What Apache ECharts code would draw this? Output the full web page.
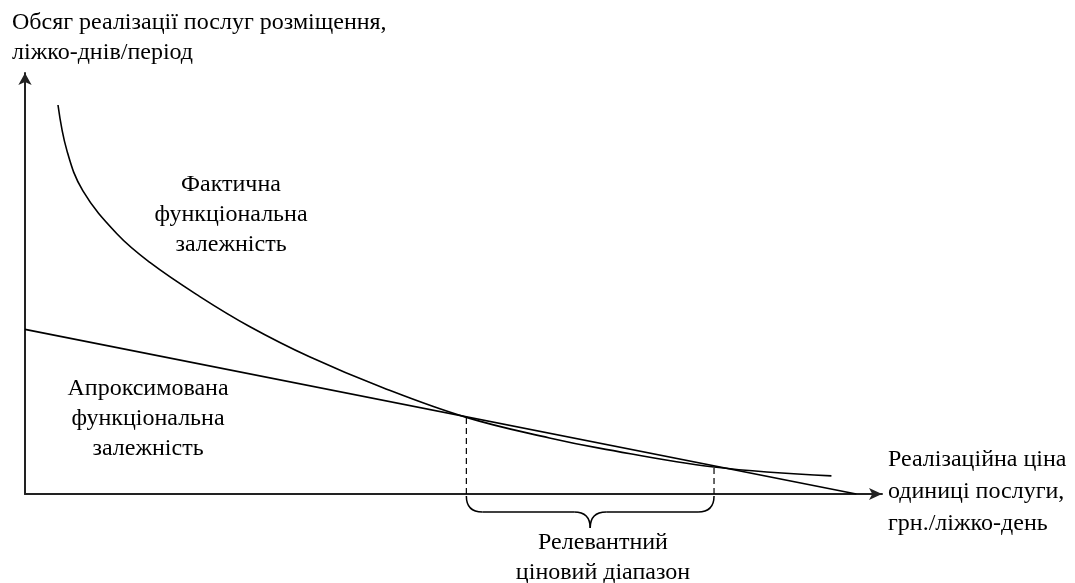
<!DOCTYPE html>
<html>
<head>
<meta charset="utf-8">
<title>Релевантний ціновий діапазон</title>
<script src="https://cdn.jsdelivr.net/npm/echarts@6/dist/echarts.min.js"></script>
<style>
	html,body{margin:0;padding:0;background:#fff;}
	#main{width:1075px;height:583px;}
</style>
</head>
<body>
<div id="main"></div>
<script>
// фактична залежність (ціна -> обсяг), умовні одиниці
var actualX = [3.85, 4.90, 6.76, 10.72, 14.57, 20.4, 26.2, 33.2, 41.7, 51.5, 61.2, 67.0, 80.4, 94.1];
var actualY = [92.4, 81.5, 72.0, 61.8, 55.0, 46.9, 39.8, 32.6, 25.3, 18.2, 13.3, 10.9, 6.4, 4.3];
// апроксимована (лінійна) залежність
var approxX = [0, 97.0];
var approxY = [39.1, 0];
// межі релевантного діапазону - індекси точок фактичної кривої
var rangeIdx = [9, 12];

var font = '"Liberation Serif", "DejaVu Serif", serif';

var actualData = actualX.map(function (x, i) { return [x, actualY[i]]; });
var approxData = approxX.map(function (x, i) { return [x, approxY[i]]; });

var dashSeries = rangeIdx.map(function (k) {
	return {
		type: 'line',
		data: [[actualX[k], 0], [actualX[k], actualY[k]]],
		showSymbol: false,
		lineStyle: {color: '#000', width: 1.2, type: [6, 4]},
		z: 1
	};
});

var chart = echarts.init(document.getElementById('main'));
var option = {
	animation: false,
	grid: {left: 25, top: 73, width: 857, height: 421},
	xAxis: {
		type: 'value', min: 0, max: 100,
		axisLine: {lineStyle: {color: '#222', width: 2}, symbol: ['none', 'arrow'], symbolSize: [9, 13]},
		axisTick: {show: false}, axisLabel: {show: false}, splitLine: {show: false}
	},
	yAxis: {
		type: 'value', min: 0, max: 100,
		axisLine: {lineStyle: {color: '#222', width: 2}, symbol: ['none', 'arrow'], symbolSize: [10, 12]},
		axisTick: {show: false}, axisLabel: {show: false}, splitLine: {show: false}
	},
	series: [
		{
			type: 'line', data: actualData, smooth: 0.4, showSymbol: false,
			lineStyle: {color: '#000', width: 1.6}, z: 2
		},
		{
			type: 'line', data: approxData, showSymbol: false,
			lineStyle: {color: '#000', width: 1.6}, z: 2
		}
	].concat(dashSeries)
};
chart.setOption(option);

// фігурна дужка та підписи
var p1 = chart.convertToPixel({gridIndex: 0}, [actualX[rangeIdx[0]], 0]);
var p2 = chart.convertToPixel({gridIndex: 0}, [actualX[rangeIdx[1]], 0]);
var y0 = p1[1] + 2, yh = p1[1] + 18, yt = p1[1] + 34, mid = (p1[0] + p2[0]) / 2, r = 16;
var bs = {stroke: '#000', lineWidth: 1.5, fill: null};

function curve(x1, y1, cx, cy, x2, y2) {
	return {type: 'bezierCurve', shape: {x1: x1, y1: y1, cpx1: cx, cpy1: cy, x2: x2, y2: y2}, style: bs};
}
function seg(x1, y1, x2, y2) {
	return {type: 'line', shape: {x1: x1, y1: y1, x2: x2, y2: y2}, style: bs};
}
function txt(s, x, y, align, lh) {
	return {
		type: 'text', x: x, y: y,
		style: {text: s, font: '24px ' + font, fill: '#000', align: align || 'center', verticalAlign: 'middle', lineHeight: lh || 30}
	};
}

chart.setOption({
	graphic: [
		curve(p1[0], y0, p1[0], yh, p1[0] + r, yh),
		seg(p1[0] + r, yh, mid - r, yh),
		curve(mid - r, yh, mid, yh, mid, yt),
		curve(mid, yt, mid, yh, mid + r, yh),
		seg(mid + r, yh, p2[0] - r, yh),
		curve(p2[0] - r, yh, p2[0], yh, p2[0], y0),
		txt('Обсяг реалізації послуг розміщення,\nліжко-днів/період', 12, 38, 'left'),
		txt('Фактична\nфункціональна\nзалежність', 231, 215),
		txt('Апроксимована\nфункціональна\nзалежність', 148, 419),
		txt('Реалізаційна ціна\nодиниці послуги,\nгрн./ліжко-день', 888, 492, 'left', 32),
		txt('Релевантний\nціновий діапазон', 603, 558)
	]
});
</script>
</body>
</html>
